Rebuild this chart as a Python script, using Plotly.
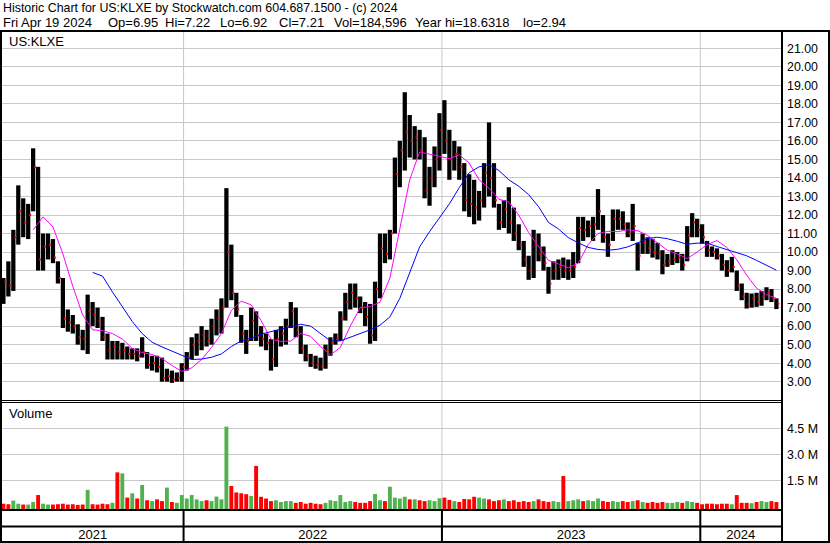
import pandas as pd
import plotly.graph_objects as go

# ---------------- data ----------------
title_line = "Historic Chart for US:KLXE by Stockwatch.com 604.687.1500 - (c) 2024"
quote_items = ["Fri Apr 19 2024", "Op=6.95", "Hi=7.22", "Lo=6.92", "Cl=7.21",
               "Vol=184,596", "Year hi=18.6318", "lo=2.94"]
symbol_label = "US:KLXE"
volume_label = "Volume"

first_week = "2021-04-19"   # weekly bars, Monday of first week

high = [8.6, 9.5, 11.2, 13.6, 12.9, 12.6, 15.6, 14.6, 11.0, 11.0,
        10.7, 9.5, 8.6, 6.9, 6.6, 6.1, 5.8, 7.7, 7.3, 7.0,
        6.5, 5.6, 5.2, 5.2, 5.1, 4.9, 4.8, 4.8, 5.4, 4.6,
        4.4, 4.4, 4.3, 3.7, 3.6, 3.5, 4.0, 4.6, 5.4, 5.6,
        6.0, 5.8, 6.4, 6.9, 7.5, 13.45, 10.4, 7.8, 6.6, 5.8,
        7.0, 6.8, 6.0, 5.6, 5.3, 5.8, 6.0, 6.4, 7.3, 7.0,
        6.0, 5.0, 4.5, 4.4, 4.3, 5.0, 5.4, 5.6, 6.8, 7.8,
        8.3, 8.3, 7.6, 7.3, 7.2, 8.4, 11.0, 11.0, 11.2, 15.1,
        16.0, 18.63, 17.4, 16.8, 16.6, 16.2, 14.6, 15.7, 17.5, 18.2,
        16.6, 16.0, 15.7, 14.8, 14.2, 13.9, 13.3, 14.8, 17.0, 14.8,
        12.6, 12.8, 13.5, 12.4, 11.5, 10.6, 9.8, 11.2, 11.0, 10.3,
        9.2, 9.5, 9.6, 9.7, 9.6, 10.0, 11.9, 11.9, 11.7, 11.9,
        13.4, 12.0, 11.0, 12.3, 12.3, 12.2, 11.6, 12.6, 10.5, 11.0,
        10.8, 10.7, 10.5, 10.1, 9.9, 10.1, 10.0, 9.9, 11.4, 12.1,
        11.8, 11.5, 10.6, 10.3, 10.2, 9.9, 9.56, 9.74, 9.0, 8.3,
        7.8, 7.76, 7.8, 7.9, 8.1, 8.0, 7.5]

low = [7.2, 7.6, 7.9, 10.4, 10.8, 10.7, 12.2, 9.0, 9.0, 9.6,
       9.4, 8.3, 5.9, 5.7, 5.6, 5.0, 4.7, 4.5, 6.0, 5.9,
       5.2, 4.2, 4.2, 4.2, 4.2, 4.2, 4.2, 4.1, 4.3, 3.7,
       3.6, 3.5, 3.0, 3.0, 2.94, 3.0, 3.0, 3.6, 4.2, 4.4,
       4.7, 4.9, 5.0, 5.5, 5.6, 7.0, 7.4, 6.5, 5.1, 4.5,
       5.2, 5.2, 4.9, 4.7, 3.6, 3.8, 4.9, 5.0, 5.9, 5.4,
       4.5, 4.1, 3.8, 3.7, 3.6, 3.7, 4.4, 5.0, 5.2, 6.3,
       6.9, 7.0, 6.7, 6.0, 5.05, 5.2, 7.5, 9.4, 9.6, 11.0,
       13.5, 14.4, 15.1, 15.0, 15.0, 12.9, 12.5, 13.5, 14.4, 15.3,
       13.9, 14.4, 13.9, 12.2, 11.9, 11.5, 11.7, 12.4, 13.0, 12.4,
       11.2, 11.3, 11.0, 10.6, 10.1, 9.2, 8.5, 8.6, 9.5, 9.0,
       7.75, 8.5, 8.5, 8.6, 8.5, 8.6, 9.4, 10.6, 10.8, 10.6,
       11.2, 10.5, 9.74, 10.6, 11.2, 11.2, 10.8, 10.6, 9.0, 9.9,
       9.9, 9.7, 9.6, 8.8, 9.2, 9.3, 9.4, 9.0, 9.5, 10.8,
       10.8, 10.45, 9.74, 9.74, 9.6, 9.0, 8.66, 8.9, 7.9, 7.4,
       6.95, 7.0, 7.04, 7.1, 7.4, 7.3, 6.92]

close = [8.4, 8.2, 10.8, 12.2, 11.6, 12.0, 14.6, 9.6, 10.3, 10.4,
         9.7, 8.6, 6.4, 6.2, 6.0, 5.4, 5.3, 6.8, 6.6, 6.3,
         5.4, 4.7, 4.9, 4.6, 4.7, 4.5, 4.5, 4.4, 4.6, 3.9,
         4.0, 3.8, 3.2, 3.3, 3.1, 3.2, 3.8, 4.3, 5.0, 5.2,
         5.5, 5.2, 6.0, 6.4, 7.0, 10.0, 7.8, 6.9, 5.6, 5.2,
         6.3, 5.5, 5.3, 5.1, 4.2, 5.3, 5.6, 6.0, 6.8, 5.8,
         4.8, 4.4, 4.0, 3.9, 3.8, 4.7, 5.1, 5.3, 6.4, 7.3,
         7.8, 7.5, 7.0, 6.5, 5.5, 8.0, 10.2, 9.9, 11.0, 14.2,
         15.5, 16.5, 16.0, 16.2, 15.5, 13.3, 14.0, 15.0, 16.6, 16.0,
         15.0, 15.3, 14.6, 12.8, 12.6, 12.4, 12.8, 14.3, 14.0, 12.8,
         11.6, 12.3, 11.6, 11.0, 10.4, 9.6, 9.0, 10.4, 9.9, 9.4,
         8.3, 9.0, 9.2, 9.0, 9.0, 9.2, 11.3, 11.2, 11.4, 11.5,
         12.2, 10.8, 10.4, 11.8, 11.8, 11.5, 11.0, 11.4, 9.8, 10.5,
         10.2, 10.0, 9.9, 9.3, 9.5, 9.6, 9.7, 9.3, 10.9, 11.6,
         11.2, 10.8, 10.1, 10.0, 9.8, 9.3, 9.0, 9.2, 8.2, 7.6,
         7.2, 7.5, 7.3, 7.6, 7.8, 7.5, 7.21]

volume_m = [0.15, 0.12, 0.33, 0.15, 0.1, 0.1, 0.25, 0.65, 0.15, 0.1,
            0.1, 0.12, 0.15, 0.1, 0.12, 0.08, 0.1, 0.95, 0.12, 0.1,
            0.15, 0.12, 0.2, 1.96, 1.9, 0.5, 0.75, 0.45, 1.23, 0.35,
            0.3, 0.4, 0.3, 1.08, 0.25, 0.2, 0.65, 0.45, 0.65, 0.4,
            0.3, 0.35, 0.3, 0.56, 0.4, 4.6, 1.17, 0.8, 0.75, 0.7,
            0.6, 2.33, 0.55, 0.45, 0.3, 0.35, 0.25, 0.3, 0.3, 0.2,
            0.25, 0.15, 0.2, 0.15, 0.12, 0.2, 0.35, 0.3, 0.65, 0.25,
            0.3, 0.25, 0.2, 0.2, 0.3, 0.71, 0.35, 0.3, 1.13, 0.5,
            0.45, 0.55, 0.4, 0.4, 0.35, 0.3, 0.35, 0.3, 0.46, 0.5,
            0.37, 0.3, 0.25, 0.42, 0.4, 0.55, 0.5, 0.45, 0.4, 0.3,
            0.35, 0.4, 0.3, 0.35, 0.25, 0.3, 0.25, 0.3, 0.4, 0.3,
            0.25, 0.3, 0.25, 1.75, 0.3, 0.35, 0.4, 0.3, 0.35, 0.3,
            0.45, 0.3, 0.25, 0.3, 0.25, 0.3, 0.25, 0.3, 0.35, 0.25,
            0.2, 0.25, 0.2, 0.25, 0.2, 0.2, 0.25, 0.2, 0.3, 0.25,
            0.2, 0.12, 0.15, 0.15, 0.12, 0.15, 0.15, 0.12, 0.65, 0.2,
            0.2, 0.18, 0.25, 0.3, 0.25, 0.3, 0.25]

# moving averages, sampled every second week
ma_fast_first_week = 6
ma_fast = [11.2, 11.9, 11.35, 9.9, 8.15, 6.6, 5.8, 5.76, 5.6, 5.3,
           4.8, 4.57, 4.47, 4.25, 3.88, 3.55, 3.75, 4.2, 4.85, 5.6,
           6.85, 7.35, 7.15, 6.3, 5.3, 5.17, 5.2, 5.6, 5.45, 4.9,
           4.45, 4.85, 6.0, 7.0, 7.05, 7.3, 8.6, 11.3, 13.9, 15.4,
           15.3, 15.17, 15.04, 15.25, 14.8, 13.9, 13.45, 12.85, 12.7, 12.0,
           11.05, 10.3, 9.55, 9.36, 9.15, 9.4, 10.4, 11.0, 11.12, 11.1,
           11.2, 11.15, 10.9, 10.5, 10.1, 9.9, 9.65, 10.0, 10.4, 10.62,
           10.25, 9.58, 8.75, 8.05, 7.7, 7.5]
ma_slow_first_week = 18
ma_slow = [8.9, 8.7, 7.85, 7.05, 6.25, 5.6, 5.13, 4.88, 4.65, 4.45,
           4.2, 4.22, 4.32, 4.5, 4.9, 5.2, 5.35, 5.57, 5.7, 5.82,
           5.97, 6.1, 6.0, 5.6, 5.2, 5.2, 5.4, 5.6, 5.8, 6.05,
           6.5, 7.5, 8.84, 10.28, 11.1, 11.85, 12.6, 13.48, 14.28, 14.6,
           14.72, 14.4, 13.9, 13.55, 13.1, 12.45, 11.6, 11.25, 10.78, 10.5,
           10.25, 10.14, 10.1, 10.15, 10.28, 10.5, 10.73, 10.8, 10.72, 10.58,
           10.42, 10.48, 10.48, 10.3, 10.12, 9.98, 9.8, 9.55, 9.3, 9.02]

year_labels = ["2021", "2022", "2023", "2024"]
year_starts = ["2022-01-01", "2023-01-01", "2024-01-01"]
price_ticks = list(range(3, 22))
vol_tick_vals = [1.5, 3.0, 4.5]
vol_tick_text = ["1.5 M", "3.0 M", "4.5 M"]

# ---------------- derived ----------------
week_start = pd.date_range(first_week, periods=len(close), freq="7D")
week_mid = week_start + pd.Timedelta(hours=60)
close_x = week_mid + pd.Timedelta(hours=66)
fast_x = week_mid[ma_fast_first_week::2][:len(ma_fast)]
slow_x = week_mid[ma_slow_first_week::2][:len(ma_slow)]
vol_colors = ["#ff0000"] + ["#4fb24f" if close[i] >= close[i - 1] else "#ff0000"
                            for i in range(1, len(close))]

# ---------------- layout geometry ----------------
W, H = 830, 543
PL, PR, PT, PB = 2, 781, 32, 509
X_RANGE = [pd.Timestamp("2021-04-19 12:00"), pd.Timestamp("2024-04-24")]
V_BASE = -0.156
FONT = "Liberation Sans, Arial, sans-serif"
HEAD_SIZE = 12.4
QUOTE_SIZE = 13
AX_SIZE = 12.4
QUOTE_X = [1, 106, 163, 218, 277, 332, 413, 521]   # left pixel of each quote item


def px(X):
    return (X - PL) / (PR - PL)


def py(Y):
    return (PB - Y) / (PB - PT)


DAY_MS = 86400000
fig = go.Figure()
fig.add_trace(go.Bar(x=week_mid, y=[h - l for h, l in zip(high, low)], base=low,
                     width=6.0 * DAY_MS, marker=dict(color="black", line=dict(width=0)),
                     xaxis="x", yaxis="y", hoverinfo="skip"))
fig.add_trace(go.Scatter(x=close_x, y=close, mode="markers",
                         marker=dict(symbol="square", size=2, color="#ff0000", line=dict(width=0)),
                         xaxis="x", yaxis="y", hoverinfo="skip"))
fig.add_trace(go.Scatter(x=fast_x, y=ma_fast, mode="lines", line=dict(color="#ff00ff", width=1),
                         xaxis="x", yaxis="y", hoverinfo="skip"))
fig.add_trace(go.Scatter(x=slow_x, y=ma_slow, mode="lines", line=dict(color="#0000ff", width=1),
                         xaxis="x", yaxis="y", hoverinfo="skip"))
fig.add_trace(go.Bar(x=week_mid, y=[v - V_BASE for v in volume_m], base=V_BASE,
                     width=5.5 * DAY_MS, marker=dict(color=vol_colors, line=dict(width=0)),
                     xaxis="x2", yaxis="y2", hoverinfo="skip"))

# year label positions: centre of each visible year segment
bounds = [X_RANGE[0]] + [pd.Timestamp(s) for s in year_starts] + [X_RANGE[1]]
label_pos = [bounds[i] + (bounds[i + 1] - bounds[i]) / 2 for i in range(len(year_labels))]

shapes = []
for s in year_starts:
    shapes.append(dict(type="line", xref="x", yref="paper", x0=s, x1=s, y0=0, y1=1,
                       line=dict(color="#c8c8c8", width=1), layer="below"))
    shapes.append(dict(type="line", xref="x", yref="paper", x0=s, x1=s, y0=py(541), y1=py(509),
                       line=dict(color="black", width=2)))


def hline(Y, x0, x1, w):
    return dict(type="line", xref="paper", yref="paper", x0=px(x0), x1=px(x1), y0=py(Y), y1=py(Y),
                line=dict(color="black", width=w))


def vline(X, y0, y1, w):
    return dict(type="line", xref="paper", yref="paper", x0=px(X), x1=px(X), y0=py(y0), y1=py(y1),
                line=dict(color="black", width=w))


shapes += [
    hline(31, 0, 830, 2),
    hline(400.5, 0, 781, 1),
    hline(402.5, 0, 781, 1),
    hline(510, 0, 782, 2),
    hline(526.5, 0, 782, 2),
    hline(542, 0, 830, 2),
    vline(1, 30, 543, 2),
    vline(782, 30, 543, 2),
    vline(829, 30, 543, 2),
]


def label(text, X, Y, size):
    return dict(text=text, x=px(X), y=py(Y), xref="paper", yref="paper", xanchor="left",
                yanchor="middle", showarrow=False,
                font=dict(size=size, color="black", family=FONT))


annotations = [
    label(title_line, 1, 8.5, HEAD_SIZE),
    label(symbol_label, 7, 41.5, 13),
    label(volume_label, 7, 413, 13),
]
annotations += [label(t, X, 22.5, QUOTE_SIZE) for t, X in zip(quote_items, QUOTE_X)]

axis_common = dict(showline=False, zeroline=False, fixedrange=True)
fig.update_layout(
    width=W, height=H,
    margin=dict(l=PL, r=W - PR, t=PT, b=H - PB, pad=0),
    paper_bgcolor="white", plot_bgcolor="white",
    showlegend=False, barmode="overlay", hovermode=False,
    font=dict(family=FONT, size=13, color="black"),
    xaxis=dict(type="date", range=X_RANGE, domain=[0, 1], anchor="y", showgrid=False,
               showticklabels=False, ticks="", **axis_common),
    xaxis2=dict(type="date", matches="x", domain=[0, 1], anchor="y2", showgrid=False,
                tickmode="array", tickvals=label_pos, ticktext=year_labels, ticks="",
                ticklabelstandoff=16, tickfont=dict(size=13, color="black", family=FONT),
                **axis_common),
    yaxis=dict(domain=[py(400), 1], range=[2.012, 21.88], side="right", anchor="x",
               tickmode="array", tickvals=price_ticks, tickformat=".2f",
               showgrid=True, gridcolor="#c8c8c8", gridwidth=1, ticks="",
               ticklabelstandoff=5, tickfont=dict(size=AX_SIZE, color="black", family=FONT),
               **axis_common),
    yaxis2=dict(domain=[0, py(402)], range=[V_BASE, 6.02], side="right", anchor="x2",
                tickmode="array", tickvals=vol_tick_vals, ticktext=vol_tick_text,
                showgrid=True, gridcolor="#c8c8c8", gridwidth=1, ticks="",
                ticklabelstandoff=5, tickfont=dict(size=AX_SIZE, color="black", family=FONT),
                **axis_common),
    shapes=shapes,
    annotations=annotations,
)

fig.write_html("out.html", config={"displayModeBar": False},
               post_script="document.body.style.margin='0';document.body.style.padding='0';"
                           "document.body.style.overflow='hidden';")
